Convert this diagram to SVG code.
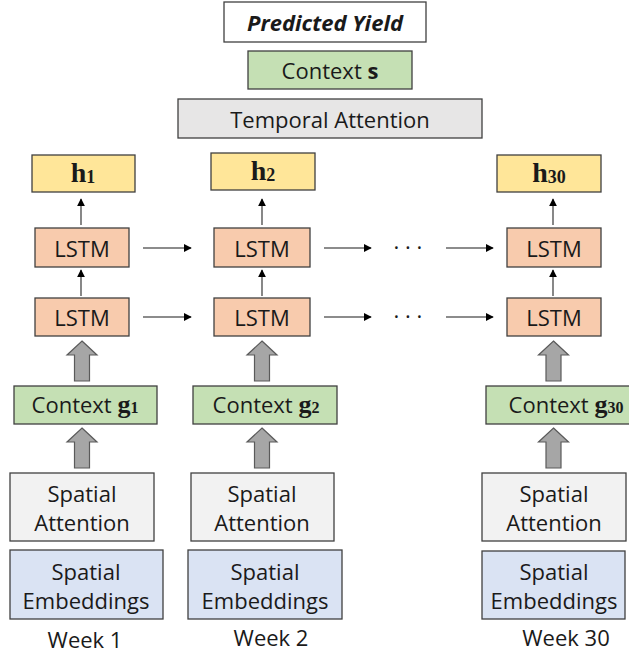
<svg xmlns="http://www.w3.org/2000/svg" width="629" height="653" viewBox="0 0 629 653">
<style>
  .box { stroke: #404040; stroke-width: 1.3; }
  .lbl { font-family: "Open Sans", "Noto Sans", sans-serif; font-size: 22px; fill: #1a1a1a; text-anchor: middle; dominant-baseline: central; }
  .math { font-family: "Liberation Serif", "DejaVu Serif", serif; font-weight: bold; }
  .lstm { fill: #f8cbad; }
  .hbox { fill: #ffe699; }
  .ctx { fill: #c5e0b4; }
  .satt { fill: #f2f2f2; }
  .semb { fill: #dae3f3; }
  .tatt { fill: #e7e6e6; }
  .thin { stroke: #1a1a1a; stroke-width: 1.2; fill: none; marker-end: url(#ah); }
  .vthin { stroke: #555; stroke-width: 1.4; fill: none; marker-end: url(#ah); }
  .block { fill: #a6a6a6; stroke: #5a5a5a; stroke-width: 1.2; }
</style>
<defs>
  <marker id="ah" viewBox="0 0 10 10" refX="9" refY="5" markerWidth="8" markerHeight="8" markerUnits="userSpaceOnUse" orient="auto">
    <path d="M0,0 L10,5 L0,10 Z" fill="#000"/>
  </marker>
  <path id="blk" d="M0,0 L15,14 L7.5,14 L7.5,40 L-7.5,40 L-7.5,14 L-15,14 Z"/>
</defs>
<rect width="629" height="653" fill="#ffffff"/>

<g id="predicted-yield">
  <rect class="box" x="224" y="2" width="202" height="40" fill="#ffffff"/>
  <text class="lbl" x="325" y="22" font-weight="bold" font-style="italic">Predicted Yield</text>
</g>
<g id="context-s">
  <rect class="box ctx" x="248" y="51" width="164" height="38"/>
  <text class="lbl" x="330" y="70">Context <tspan font-weight="bold">s</tspan></text>
</g>
<g id="temporal-attention">
  <rect class="box tatt" x="178" y="99" width="304" height="39"/>
  <text class="lbl" x="330" y="118.5">Temporal Attention</text>
</g>

<g id="h1">
  <rect class="box hbox" x="32" y="155" width="103" height="37"/>
  <text class="lbl" x="83" y="171.5"><tspan class="math" font-size="28">h</tspan><tspan class="math" font-size="18" dy="5">1</tspan></text>
</g>
<g id="h2">
  <rect class="box hbox" x="211" y="153" width="104" height="37"/>
  <text class="lbl" x="263" y="169.5"><tspan class="math" font-size="28">h</tspan><tspan class="math" font-size="18" dy="5">2</tspan></text>
</g>
<g id="h30">
  <rect class="box hbox" x="497" y="155" width="104" height="37"/>
  <text class="lbl" x="549" y="171.5"><tspan class="math" font-size="28">h</tspan><tspan class="math" font-size="18" dy="5">30</tspan></text>
</g>

<g id="lstm-top-1">
  <rect class="box lstm" x="35" y="228" width="94" height="39"/>
  <text class="lbl" x="82" y="247.5">LSTM</text>
</g>
<g id="lstm-top-2">
  <rect class="box lstm" x="214" y="228" width="96" height="39"/>
  <text class="lbl" x="262" y="247.5">LSTM</text>
</g>
<g id="lstm-top-30">
  <rect class="box lstm" x="507" y="228" width="94" height="39"/>
  <text class="lbl" x="554" y="247.5">LSTM</text>
</g>
<g id="lstm-bot-1">
  <rect class="box lstm" x="35" y="298" width="94" height="38"/>
  <text class="lbl" x="82" y="317">LSTM</text>
</g>
<g id="lstm-bot-2">
  <rect class="box lstm" x="214" y="298" width="96" height="38"/>
  <text class="lbl" x="262" y="317">LSTM</text>
</g>
<g id="lstm-bot-30">
  <rect class="box lstm" x="507" y="298" width="94" height="38"/>
  <text class="lbl" x="554" y="317">LSTM</text>
</g>

<g id="context-g1">
  <rect class="box ctx" x="14" y="386" width="143" height="38"/>
  <text class="lbl" x="85" y="404">Context <tspan class="math" font-size="26">g</tspan><tspan class="math" font-size="16" dy="3">1</tspan></text>
</g>
<g id="context-g2">
  <rect class="box ctx" x="193" y="386" width="144" height="38"/>
  <text class="lbl" x="266" y="404">Context <tspan class="math" font-size="26">g</tspan><tspan class="math" font-size="16" dy="3">2</tspan></text>
</g>
<g id="context-g30">
  <rect class="box ctx" x="486" y="386" width="144" height="38"/>
  <text class="lbl" x="566" y="404">Context <tspan class="math" font-size="26">g</tspan><tspan class="math" font-size="16" dy="3">30</tspan></text>
</g>

<g id="spatial-attention-1">
  <rect class="box satt" x="10" y="473" width="144" height="68"/>
  <text class="lbl" x="82" y="493">Spatial</text>
  <text class="lbl" x="82" y="522">Attention</text>
</g>
<g id="spatial-attention-2">
  <rect class="box satt" x="191" y="473" width="143" height="68"/>
  <text class="lbl" x="262" y="493">Spatial</text>
  <text class="lbl" x="262" y="522">Attention</text>
</g>
<g id="spatial-attention-30">
  <rect class="box satt" x="482" y="473" width="144" height="68"/>
  <text class="lbl" x="554" y="493">Spatial</text>
  <text class="lbl" x="554" y="522">Attention</text>
</g>

<g id="spatial-embeddings-1">
  <rect class="box semb" x="10" y="550" width="153" height="69"/>
  <text class="lbl" x="86" y="571">Spatial</text>
  <text class="lbl" x="86" y="600">Embeddings</text>
</g>
<g id="spatial-embeddings-2">
  <rect class="box semb" x="188" y="550" width="154" height="69"/>
  <text class="lbl" x="265" y="571">Spatial</text>
  <text class="lbl" x="265" y="600">Embeddings</text>
</g>
<g id="spatial-embeddings-30">
  <rect class="box semb" x="482" y="551" width="143" height="68"/>
  <text class="lbl" x="554" y="571">Spatial</text>
  <text class="lbl" x="554" y="600">Embeddings</text>
</g>

<g id="week-labels">
  <text class="lbl" x="85" y="639">Week 1</text>
  <text class="lbl" x="271" y="637">Week 2</text>
  <text class="lbl" x="566" y="637">Week 30</text>
</g>

<g id="connectors">
  <line class="vthin" x1="81" y1="225" x2="81" y2="199"/>
  <line class="vthin" x1="262" y1="225" x2="262" y2="199"/>
  <line class="vthin" x1="553" y1="225" x2="553" y2="199"/>
  <line class="vthin" x1="81" y1="296" x2="81" y2="270"/>
  <line class="vthin" x1="262" y1="296" x2="262" y2="270"/>
  <line class="vthin" x1="553" y1="296" x2="553" y2="270"/>

  <line class="thin" x1="143" y1="248" x2="191" y2="248"/>
  <line class="thin" x1="324" y1="248" x2="371" y2="248"/>
  <line class="thin" x1="446" y1="248" x2="493" y2="248"/>
  <line class="thin" x1="143" y1="317" x2="191" y2="317"/>
  <line class="thin" x1="324" y1="317" x2="371" y2="317"/>
  <line class="thin" x1="446" y1="317" x2="493" y2="317"/>
  <text class="lbl" x="408" y="246" font-size="13" fill="#333">· · ·</text>
  <text class="lbl" x="408" y="315" font-size="13" fill="#333">· · ·</text>

  <use href="#blk" class="block" x="82" y="341"/>
  <use href="#blk" class="block" x="262" y="341"/>
  <use href="#blk" class="block" x="553.5" y="341"/>
  <use href="#blk" class="block" x="82" y="428"/>
  <use href="#blk" class="block" x="262" y="428"/>
  <use href="#blk" class="block" x="553.5" y="428"/>
</g>
</svg>
